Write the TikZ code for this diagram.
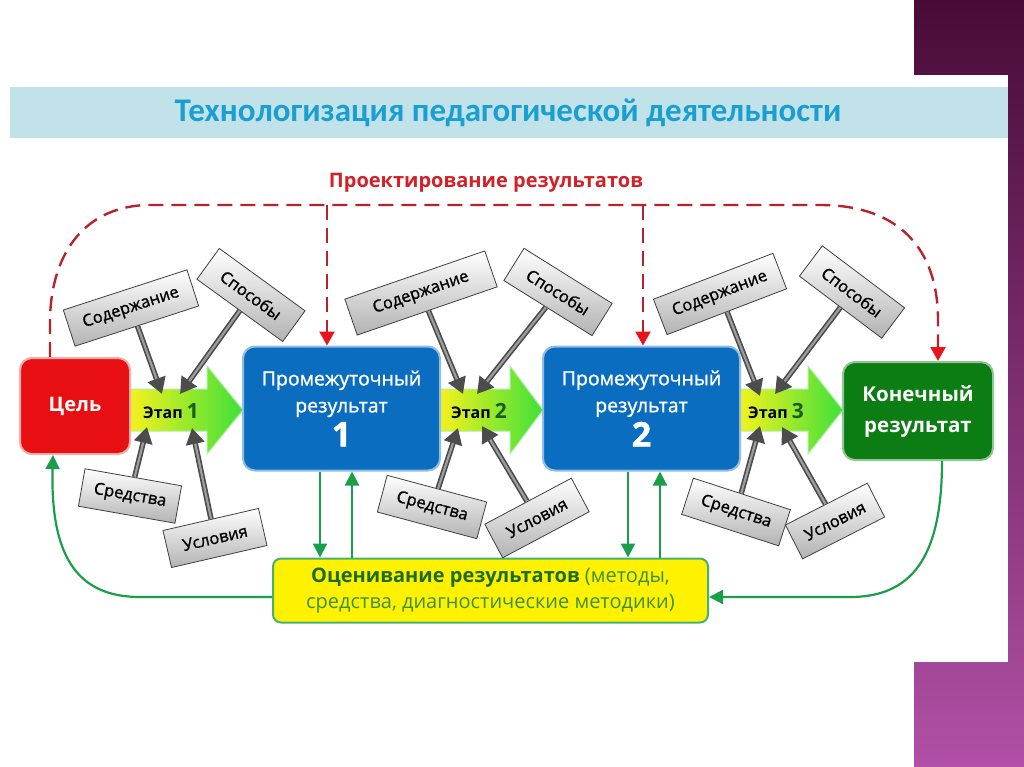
\documentclass[tikz,border=0pt]{standalone}
\usepackage{fontspec}
\setmainfont{Open Sans}
\newfontfamily\titlefont{Carlito}
\newfontfamily\semib[FakeBold=1.2]{Open Sans}
\usetikzlibrary{arrows.meta,calc,positioning}
\definecolor{ttl}{HTML}{1B9FD0}
\definecolor{band}{HTML}{C2E2EA}
\definecolor{purpa}{HTML}{480B38}
\definecolor{purpb}{HTML}{B150A6}
\definecolor{rdd}{HTML}{B8232B}
\definecolor{rdb}{HTML}{E8141C}
\definecolor{rdt}{HTML}{D42027}
\definecolor{celred}{HTML}{E80F12}
\definecolor{prblue}{HTML}{0B6DC0}
\definecolor{knred}{HTML}{0C7D12}
\definecolor{grn}{HTML}{1B9E4B}
\definecolor{yel}{HTML}{F4F21E}
\definecolor{lgrn}{HTML}{3FE03A}
\definecolor{dkg}{HTML}{1A5E1A}
\definecolor{evb}{HTML}{1E6B1E}
\definecolor{evt}{HTML}{3E8E3A}
\begin{document}
\begin{tikzpicture}[x=1pt, y=-1pt,
  every node/.style={font=\fontsize{15}{18}\selectfont},
  fac/.style={draw=black!75, line width=0.8pt, top color=white, bottom color=black!30,
    minimum height=38, inner sep=1pt, font=\semib\fontsize{16.5}{18}\selectfont},
  box/.style={rounded corners=12, line width=2pt, align=center, text=white},
  garrow/.style={line width=5.5pt, black!70, -{Triangle[length=16pt,width=18pt]}},
  ginner/.style={line width=2.2pt, black!38, shorten >=16pt},
  grline/.style={line width=2.2pt, grn, -{Triangle[length=14pt,width=14pt]}},
  rdline/.style={line width=2.4pt, rdd, dash pattern=on 15pt off 8pt,
    -{Triangle[length=14pt,width=15pt,color=rdb]}}]
  % background
  \fill[white] (0,0) rectangle (1024,767);
  \shade[top color=purpa, bottom color=purpb] (914,0) rectangle (1024,767);
  \fill[white] (0,75) rectangle (1008,662);
  \fill[band] (10,87) rectangle (1008,138);
  \node[font=\titlefont\bfseries\fontsize{33}{36}\selectfont, text=ttl] (title) at (508,113)
    {Технологизация педагогической деятельности};
  \node[font=\bfseries\fontsize{20}{24}\selectfont, text=rdt] (proj) at (486,183)
    {Проектирование результатов};

  % stage arrows
  \foreach \a/\b/\c in {130/207/243, 440/510/543, 740/808/843}
    \shade[left color=yel, right color=lgrn, draw=lgrn!45!white, line width=1pt]
      (\a,389) -- (\b,389) -- (\b,366) -- (\c,410) -- (\b,454) -- (\b,431) -- (\a,431) -- cycle;
  \node (e1) at (171,411) {\bfseries\fontsize{16}{18}\selectfont Этап {\fontsize{21}{21}\selectfont\color{dkg}1}};
  \node (e2) at (479,411) {\bfseries\fontsize{16}{18}\selectfont Этап {\fontsize{21}{21}\selectfont\color{dkg}2}};
  \node (e3) at (776,411) {\bfseries\fontsize{16}{18}\selectfont Этап {\fontsize{21}{21}\selectfont\color{dkg}3}};

  % main boxes
  \node[box, fill=celred, draw=celred!35!white, minimum width=110, minimum height=96,
    font=\bfseries\fontsize{20}{24}\selectfont] (c) at (75,406) {Цель};
  \node[box, fill=prblue, draw=prblue!45!white, minimum width=197, minimum height=124,
    font=\semib\fontsize{19.5}{27}\selectfont] (p1) at (341.5,408.5)
    {Промежуточный\\результат\\[4pt]{\bfseries\fontsize{34}{34}\selectfont 1}};
  \node[box, fill=prblue, draw=prblue!45!white, minimum width=197, minimum height=124,
    font=\semib\fontsize{19.5}{27}\selectfont] (p2) at (641.5,408.5)
    {Промежуточный\\результат\\[4pt]{\bfseries\fontsize{34}{34}\selectfont 2}};
  \node[box, fill=knred, draw=knred!45!white, minimum width=150, minimum height=98,
    font=\bfseries\fontsize{20.5}{31}\selectfont] (k) at (918,411) {Конечный\\результат};
  \node[rounded corners=8, fill=yellow, draw=grn!80!white, line width=2pt, minimum width=435,
    minimum height=64, align=center, text=evt, font=\fontsize{20}{26}\selectfont] (ev) at (490.5,590.5)
    {{\bfseries\color{evb}Оценивание результатов} (методы,\\средства, диагностические методики)};

  % factors
  \node[fac, rotate=18, minimum width=130] (sod1) at (131,308) {Содержание};
  \node[fac, rotate=-36, minimum width=106] (spo1) at (251,295) {Способы};
  \node[fac, rotate=-10, minimum width=98] (sre1) at (130,496) {Средства};
  \node[fac, rotate=13, minimum width=98] (usl1) at (215,538) {Условия};
  \node[fac, rotate=19, minimum width=148] (sod2) at (421,293) {Содержание};
  \node[fac, rotate=-32, minimum width=104] (spo2) at (558,292) {Способы};
  \node[fac, rotate=-15, minimum width=103] (sre2) at (432,507) {Средства};
  \node[fac, rotate=28, minimum width=98] (usl2) at (537,518) {Условия};
  \node[fac, rotate=21, minimum width=128] (sod3) at (720,294) {Содержание};
  \node[fac, rotate=-37, minimum width=103] (spo3) at (852,292) {Способы};
  \node[fac, rotate=-18, minimum width=102] (sre3) at (736,512) {Средства};
  \node[fac, rotate=27, minimum width=92] (usl3) at (835,521) {Условия};
  \coordinate (t1a) at (162,394); \coordinate (t1b) at (180,394);
  \coordinate (t1c) at (147,427); \coordinate (t1d) at (192,428);
  \coordinate (t2a) at (463,394); \coordinate (t2b) at (477,394);
  \coordinate (t2c) at (458,428); \coordinate (t2d) at (482,426);
  \coordinate (t3a) at (760,396); \coordinate (t3b) at (775,394);
  \coordinate (t3c) at (760,426); \coordinate (t3d) at (782,427);
  \foreach \s in {1,2,3} {
    \foreach \f/\t in {sod/a, spo/b, sre/c, usl/d} {
      \draw[garrow] (\f\s) -- (t\s\t);
      \draw[ginner] (\f\s) -- (t\s\t);
    }
  }

  % design of results
  \coordinate (pr1) at (327,205);
  \coordinate (pr2) at (643,205);
  \draw[rdline] ($(c.north)+(-25,0)$) -- (50,320) .. controls (51,250) and (88,205) .. (150,205)
    -- (820,205) .. controls (900,205) and (938,250) .. (938,320) -- ($(k.north)+(20,0)$);
  \draw[rdline] (pr1) -- ($(p1.north)+(-14.5,0)$);
  \draw[rdline] (pr2) -- ($(p2.north)+(1.5,0)$);

  % evaluation
  \draw[grline] (p1.south -| 320,0) -- (ev.north -| 320,0);
  \draw[grline] (ev.north -| 352,0) -- (p1.south -| 352,0);
  \draw[grline] (p2.south -| 628,0) -- (ev.north -| 628,0);
  \draw[grline] (ev.north -| 660,0) -- (p2.south -| 660,0);
  \draw[grline] (ev.west |- 0,597) -- (140,597) .. controls (80,597) and (50,560) .. ($(c.south)+(-22,0)$);
  \draw[grline] ($(k.south)+(24,0)$) .. controls (942,560) and (910,597) .. (850,597) -- (ev.east |- 0,597);
\end{tikzpicture}
\end{document}
